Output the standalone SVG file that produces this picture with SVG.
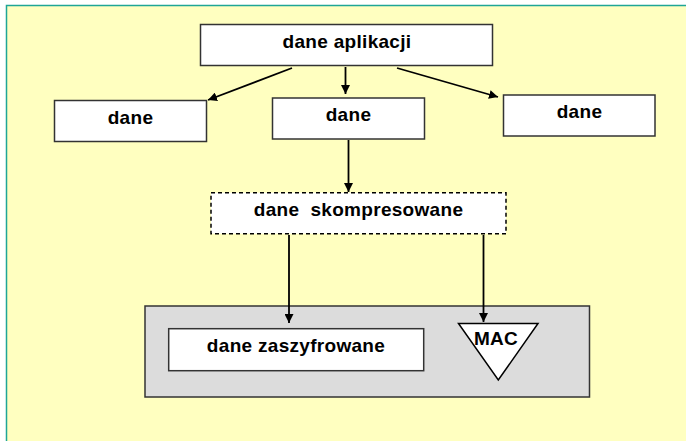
<svg xmlns="http://www.w3.org/2000/svg" width="686" height="441" viewBox="0 0 686 441">
<style>
.box{fill:#fff;stroke:#333;stroke-width:1.5}
.t{font-family:"Liberation Sans",Arial,sans-serif;font-weight:bold;font-size:19px;letter-spacing:0.3px;fill:#000;text-anchor:middle}
.c{stroke:#000;stroke-width:1.8;fill:none}
</style>
<defs>
<marker id="ah" viewBox="0 0 10 10" refX="10" refY="5" markerUnits="userSpaceOnUse" markerWidth="9" markerHeight="9" orient="auto">
<path d="M0,0 L10,5 L0,10 z" fill="#000"/>
</marker>
</defs>
<rect x="0" y="0" width="686" height="441" fill="#fff"/>
<rect x="6.5" y="5.5" width="700" height="460" fill="#FFFFC0" stroke="#1FA596" stroke-width="1.5"/>
<g id="app">
<rect class="box" x="200.5" y="24.5" width="292" height="41"/>
<text class="t" x="347" y="48">dane aplikacji</text>
</g>
<g id="dane1">
<rect class="box" x="54.5" y="100.5" width="152" height="41"/>
<text class="t" x="130.5" y="123.5">dane</text>
</g>
<g id="dane2">
<rect class="box" x="272.5" y="98" width="152" height="41"/>
<text class="t" x="348.5" y="121">dane</text>
</g>
<g id="dane3">
<rect class="box" x="503.5" y="95" width="151.5" height="41"/>
<text class="t" x="579.5" y="118">dane</text>
</g>
<g id="compressed">
<rect x="211" y="192.7" width="295" height="41" fill="#fff" stroke="#000" stroke-width="1.5" stroke-dasharray="4,3"/>
<text class="t" x="358.5" y="216" xml:space="preserve">dane  skompresowane</text>
</g>
<g id="record">
<rect x="145" y="306" width="444.5" height="91" fill="#DCDCDC" stroke="#333" stroke-width="1.5"/>
</g>
<g id="encrypted">
<rect class="box" x="168.7" y="328.7" width="255" height="42"/>
<text class="t" x="296" y="352">dane zaszyfrowane</text>
</g>
<g id="mac">
<polygon points="458.5,323.5 538,323.5 498.3,380" fill="#fff" stroke="#000" stroke-width="1.5"/>
<text class="t" x="496" y="345">MAC</text>
</g>
<g id="connectors">
<line class="c" x1="292" y1="68" x2="208" y2="100" marker-end="url(#ah)"/>
<line class="c" x1="345.5" y1="67" x2="345.5" y2="94" marker-end="url(#ah)"/>
<line class="c" x1="397" y1="68" x2="498" y2="97" marker-end="url(#ah)"/>
<line class="c" x1="348.5" y1="140" x2="348.5" y2="192" marker-end="url(#ah)"/>
<line class="c" x1="289" y1="235" x2="289" y2="323" marker-end="url(#ah)"/>
<line class="c" x1="483.5" y1="235" x2="483.5" y2="322" marker-end="url(#ah)"/>
</g>
</svg>
